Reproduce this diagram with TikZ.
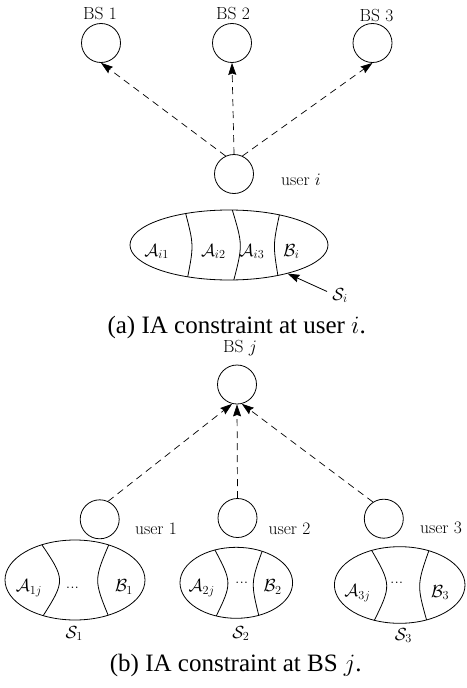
\RequirePackage{fix-cm}
\documentclass[tikz,border=0pt]{standalone}
\usepackage{fontspec}
\newfontfamily\capfont{Liberation Serif}
\usetikzlibrary{arrows.meta,shapes.geometric}
\begin{document}
\begin{tikzpicture}[x=1pt,y=-1pt,
  lbl/.style={font=\fontsize{17.5}{21}\selectfont, inner sep=0pt, anchor=base},
  dotlbl/.style={font=\fontsize{17.5}{21}\selectfont, inner sep=0pt, anchor=center},
  figcap/.style={font=\capfont\fontsize{25}{29}\selectfont, inner sep=0pt, anchor=base},
  station/.style={draw, circle, minimum size=39pt, inner sep=0pt, line width=0.8pt},
  setell/.style={draw, ellipse, inner sep=0pt, line width=0.8pt},
  divider/.style={line width=0.8pt},
  link/.style={dash pattern=on 7pt off 5pt, line width=0.7pt, -{Stealth[length=12pt,width=8pt,inset=1.5pt]}},
  pointer/.style={line width=0.8pt, -{Stealth[length=12pt,width=8pt,inset=1.5pt]}}]
\useasboundingbox (0,0) rectangle (466,688);

% ---------- (a) ----------
\node[station] (bs1) at (101,43) {};
\node[station] (bs2) at (232,43) {};
\node[station] (bs3) at (372.5,43) {};
\node[lbl] (lbs1) at (100,19.5) {BS 1};
\node[lbl] (lbs2) at (233,19.5) {BS 2};
\node[lbl] (lbs3) at (376.5,21.5) {BS 3};
\node[station] (ui) at (234,174) {};
\node[lbl] (lui) at (301,185) {user $i$};
\draw[link] (ui.115) -- (bs1.south);
\draw[link] (ui.north) -- (bs2.south);
\draw[link] (ui.65) -- (bs3.south);

\node[setell, minimum width=198pt, minimum height=70pt] (ea) at (229,245) {};
\begin{scope}
  \clip (229,245) ellipse [x radius=99, y radius=35];
  \draw[divider] (185,211) .. controls (193.9,245) .. (187.3,279);
  \draw[divider] (231.7,208) .. controls (242.9,245) .. (233.3,282);
  \draw[divider] (280,212) .. controls (272.9,245) .. (278.3,278);
\end{scope}
\node[lbl] (ai1) at (156.7,256) {$\mathcal{A}_{i1}$};
\node[lbl] (ai2) at (213.3,256) {$\mathcal{A}_{i2}$};
\node[lbl] (ai3) at (252,256) {$\mathcal{A}_{i3}$};
\node[lbl] (bi) at (291.3,256) {$\mathcal{B}_{i}$};
\node[lbl] (si) at (340,300) {$\mathcal{S}_{i}$};
\coordinate (sitail) at (327,291.5);
\draw[pointer] (sitail) -- (ea.-26);
\node[figcap] (capa) at (236.7,333) {(a) IA constraint at user $i$.};

% ---------- (b) ----------
\node[station] (bsj) at (237,384.5) {};
\node[lbl] (lbsj) at (240,352) {BS $j$};
\node[station] (u1) at (99.7,519.3) {};
\node[station] (u2) at (237.5,518) {};
\node[station] (u3) at (383.8,518.7) {};
\node[lbl] (lu1) at (156,534.3) {user 1};
\node[lbl] (lu2) at (289.5,534.3) {user 2};
\node[lbl] (lu3) at (441,533) {user 3};
\draw[link] (u1.65) -- (bsj.256);
\draw[link] (u2.north) -- (bsj.south);
\draw[link] (u3.123) -- (bsj.284);

\node[setell, minimum width=140pt, minimum height=80pt] (e1) at (75,580) {};
\begin{scope}
  \clip (75,580) ellipse [x radius=70, y radius=40];
  \draw[divider] (40,542) .. controls (65.8,580) .. (41.7,618);
  \draw[divider] (110,542) .. controls (93.7,580) .. (109.3,618);
\end{scope}
\node[setell, minimum width=112.6pt, minimum height=71pt] (e2) at (236.3,582.8) {};
\begin{scope}
  \clip (236.3,582.8) ellipse [x radius=56.3, y radius=35.5];
  \draw[divider] (213.3,547) .. controls (232.5,582.8) .. (215,618.5);
  \draw[divider] (263.3,548) .. controls (250.7,582.8) .. (259.3,617.5);
\end{scope}
\node[setell, minimum width=130.6pt, minimum height=76.6pt] (e3) at (399.7,585) {};
\begin{scope}
  \clip (399.7,585) ellipse [x radius=65.3, y radius=38.3];
  \draw[divider] (370,547.5) .. controls (391.7,585) .. (373.3,622.5);
  \draw[divider] (430,547.5) .. controls (416.7,585) .. (427.3,622.5);
\end{scope}

\node[lbl] (a1j) at (29,591.7) {$\mathcal{A}_{1j}$};
\node[dotlbl] (d1) at (72.5,588) {...};
\node[lbl] (b1) at (124,591.7) {$\mathcal{B}_{1}$};
\node[lbl] (s1) at (74.2,638.3) {$\mathcal{S}_{1}$};
\node[lbl] (a2j) at (201.7,591.7) {$\mathcal{A}_{2j}$};
\node[dotlbl] (d2) at (241.7,582.5) {...};
\node[lbl] (b2) at (272.5,591.7) {$\mathcal{B}_{2}$};
\node[lbl] (s2) at (240.8,638.3) {$\mathcal{S}_{2}$};
\node[lbl] (a3j) at (357.5,596.7) {$\mathcal{A}_{3j}$};
\node[dotlbl] (d3) at (396.7,582.5) {...};
\node[lbl] (b3) at (440,597.3) {$\mathcal{B}_{3}$};
\node[lbl] (s3) at (403.3,640) {$\mathcal{S}_{3}$};
\node[figcap] (capb) at (235.8,671.7) {(b) IA constraint at BS $j$.};
\end{tikzpicture}
\end{document}
